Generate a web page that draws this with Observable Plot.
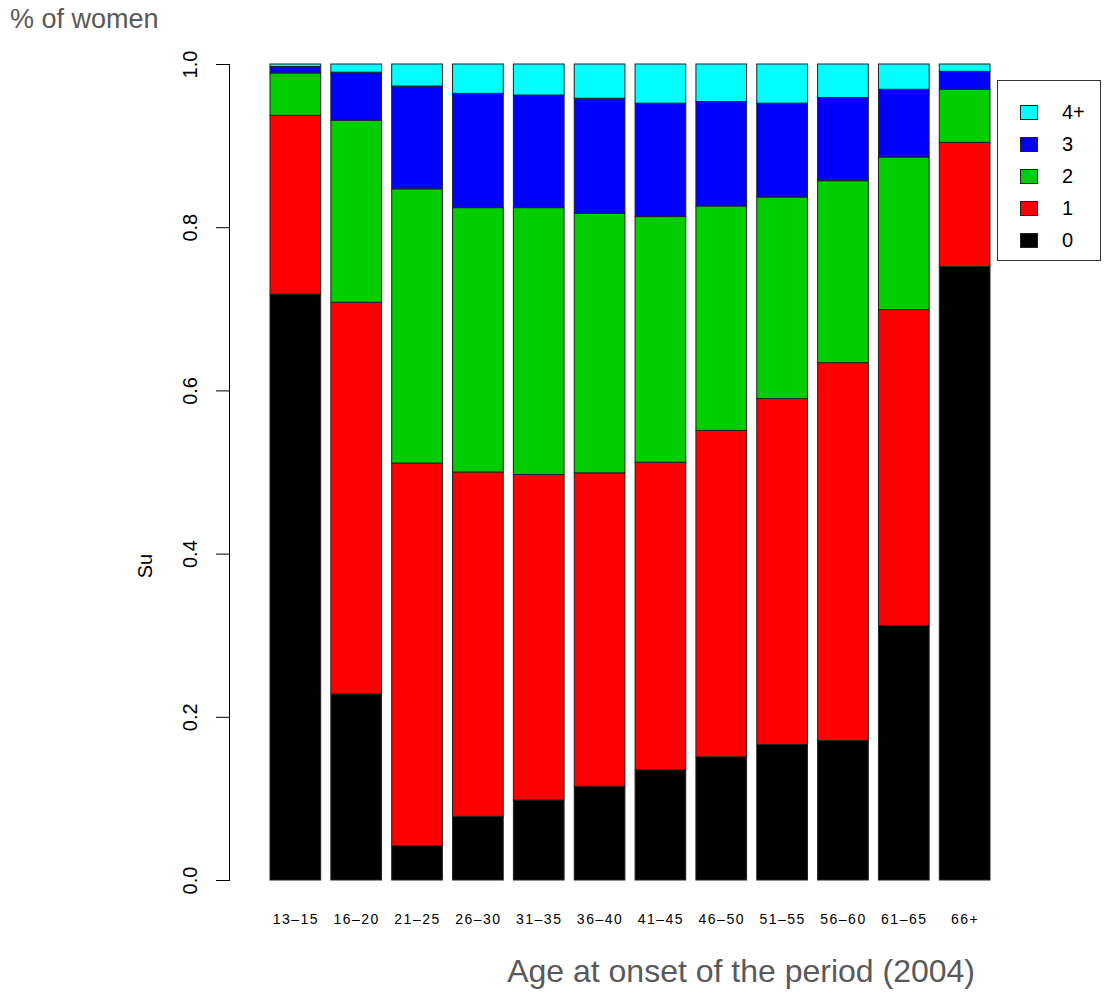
<!DOCTYPE html>
<html>
<head>
<meta charset="utf-8">
<script src="https://cdn.jsdelivr.net/npm/d3@7"></script>
<script src="https://cdn.jsdelivr.net/npm/@observablehq/plot@0.6"></script>
<style>
  html, body { margin: 0; padding: 0; background: #fff; }
  #wrap { position: relative; width: 1105px; height: 994px; overflow: hidden; font-family: "Liberation Sans", Arial, sans-serif; }
  #chart { position: absolute; left: 0; top: 0; }
  .title { position: absolute; left: 10px; top: 4px; font-size: 27px; color: #595959; white-space: nowrap; }
  .xlab { position: absolute; right: 130px; top: 953px; font-size: 32px; color: #595959; white-space: nowrap; }
  .ylab { position: absolute; left: 145px; top: 566px; font-size: 20px; color: #000; transform: translate(-50%, -50%) rotate(-90deg); white-space: nowrap; }
  .legend { position: absolute; left: 997px; top: 80px; width: 104px; height: 181px; border: 1px solid #333; box-sizing: border-box; background: #fff; }
  .legend .row { position: absolute; left: 22px; height: 18px; display: flex; align-items: center; }
  .legend .sw { width: 18px; height: 15px; border: 1px solid #222; box-sizing: border-box; margin-right: 24px; }
  .legend .lb { font-size: 20px; color: #000; }
  .xtick text { letter-spacing: 1.5px; }
</style>
</head>
<body>
<div id="wrap">
  <div id="chart"></div>
  <div class="title">% of women</div>
  <div class="ylab">Su</div>
  <div class="xlab">Age at onset of the period (2004)</div>
  <div class="legend" id="legend"></div>
</div>
<script>
// Categories (age at onset of the period)
const ages = ["13–15", "16–20", "21–25", "26–30", "31–35", "36–40", "41–45", "46–50", "51–55", "56–60", "61–65", "66+"];
// Series, stacked bottom to top
const seriesNames = ["0", "1", "2", "3", "4+"];
const s0    = [0.718, 0.228, 0.042, 0.078, 0.098, 0.115, 0.135, 0.151, 0.166, 0.171, 0.312, 0.752];
const s1    = [0.219, 0.480, 0.469, 0.422, 0.399, 0.384, 0.377, 0.400, 0.424, 0.463, 0.387, 0.152];
const s2    = [0.052, 0.223, 0.336, 0.324, 0.327, 0.318, 0.301, 0.275, 0.247, 0.223, 0.187, 0.065];
const s3    = [0.008, 0.059, 0.126, 0.140, 0.138, 0.141, 0.139, 0.128, 0.115, 0.102, 0.083, 0.022];
const s4p   = [0.003, 0.010, 0.027, 0.036, 0.038, 0.042, 0.048, 0.046, 0.048, 0.041, 0.031, 0.009];
const seriesColors = ["#000000", "#ff0000", "#00cd00", "#0000ff", "#00ffff"];
const yTicks = [0, 0.2, 0.4, 0.6, 0.8, 1.0];

const seriesValues = [s0, s1, s2, s3, s4p];
const data = [];
ages.forEach((age, i) => {
  seriesNames.forEach((name, k) => {
    data.push({age, series: name, value: seriesValues[k][i]});
  });
});

const W = 1105, H = 994;
const plot = Plot.plot({
  width: W,
  height: H,
  marginLeft: 229,
  marginRight: 115,
  marginTop: 64,
  marginBottom: 114,
  style: {fontFamily: "'Liberation Sans', Arial, sans-serif", background: "transparent", color: "#000"},
  x: {domain: ages, range: [270, 990], paddingInner: 1/6, paddingOuter: 0, round: false, axis: null},
  y: {domain: [0, 1], axis: null},
  color: {domain: seriesNames, range: seriesColors},
  marks: [
    Plot.barY(data, {x: "age", y: "value", fill: "series", stroke: "#222", strokeWidth: 1, inset: 0}),
    Plot.frame({anchor: "left", stroke: "#000"}),
    Plot.axisY(yTicks, {anchor: "left", tickSize: 13, tickFormat: () => "", label: null, stroke: "#000"}),
    Plot.text(yTicks, {y: d => d, text: d => d.toFixed(1), frameAnchor: "left", dx: -39, rotate: -90, textAnchor: "middle", lineAnchor: "middle", fontSize: 20, fill: "#000"}),
    Plot.text(ages, {x: d => d, text: d => d, frameAnchor: "bottom", dy: 39, textAnchor: "middle", lineAnchor: "middle", fontSize: 14, fill: "#000", className: "xtick"})
  ]
});
document.getElementById("chart").appendChild(plot);

// legend
const legend = document.getElementById("legend");
const order = seriesNames.slice().reverse();
order.forEach((name, i) => {
  const row = document.createElement("div");
  row.className = "row";
  row.style.top = (22 + i * 32) + "px";
  const sw = document.createElement("div");
  sw.className = "sw";
  sw.style.background = seriesColors[seriesNames.indexOf(name)];
  const lb = document.createElement("span");
  lb.className = "lb";
  lb.textContent = name;
  row.appendChild(sw);
  row.appendChild(lb);
  legend.appendChild(row);
});
</script>
</body>
</html>
